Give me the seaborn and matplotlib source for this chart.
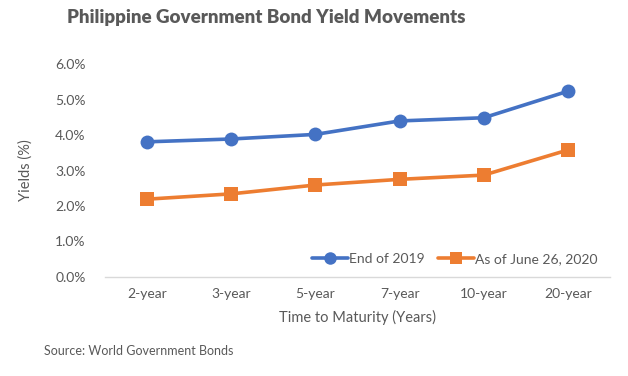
import matplotlib
matplotlib.use("Agg")
import matplotlib.pyplot as plt
import seaborn as sns
import pandas as pd
from matplotlib.ticker import FuncFormatter
from matplotlib.lines import Line2D

maturities = ["2-year", "3-year", "5-year", "7-year", "10-year", "20-year"]
end_2019 = [3.81, 3.89, 4.02, 4.40, 4.49, 5.24]
june_2020 = [2.19, 2.34, 2.59, 2.75, 2.87, 3.58]
series_names = ["End of 2019", "As of June 26, 2020"]
yticks = [0, 1, 2, 3, 4, 5, 6]

df = pd.DataFrame({
    "Maturity": maturities * 2,
    "Yield": end_2019 + june_2020,
    "Series": [series_names[0]] * len(maturities) + [series_names[1]] * len(maturities),
})

sns.set_theme(style="white")
plt.rcParams["font.family"] = ["Lato", "DejaVu Sans"]

GRAY = "#595959"
colors = {series_names[0]: "#4472C4", series_names[1]: "#ED7D31"}

fig = plt.figure(figsize=(6.28, 3.76), dpi=100)
ax = fig.add_axes([105 / 628, 1 - 276.7 / 376, (610 - 105) / 628, (276.7 - 64.3) / 376])

sns.lineplot(data=df, x="Maturity", y="Yield", hue="Series", style="Series",
             markers={series_names[0]: "o", series_names[1]: "s"}, dashes=False,
             palette=colors, linewidth=2.6, markersize=10, markeredgewidth=0,
             sort=False, ax=ax, legend=False)

ax.set_xlim(-0.5, len(maturities) - 0.5)
ax.set_ylim(0, 6.0)
ax.set_yticks(yticks)
ax.yaxis.set_major_formatter(FuncFormatter(lambda v, p: f"{v:.1f}%"))
for s in ["top", "right", "left"]:
    ax.spines[s].set_visible(False)
ax.spines["bottom"].set_color("#D9D9D9")
ax.spines["bottom"].set_linewidth(1.0)
ax.tick_params(axis="both", length=0, labelsize=10, labelcolor=GRAY)
ax.tick_params(axis="y", pad=14)
ax.tick_params(axis="x", pad=8)
ax.grid(False)

ax.set_xlabel("Time to Maturity (Years)", fontsize=10.5, color=GRAY, labelpad=7)
ax.set_ylabel("Yields (%)", fontsize=10.5, color=GRAY, labelpad=16)

handles = [
    Line2D([], [], color=colors[series_names[0]], marker="o", lw=2.6, markersize=9, markeredgewidth=0),
    Line2D([], [], color=colors[series_names[1]], marker="s", lw=2.6, markersize=8, markeredgewidth=0),
]
ax.legend(handles, series_names, loc="lower right", bbox_to_anchor=(1.0, -0.005), ncol=2,
          frameon=False, fontsize=10, labelcolor=GRAY, handlelength=2.6,
          handletextpad=0.1, columnspacing=0.9)

fig.text(266 / 628, 1 - 18 / 376, "Philippine Government Bond Yield Movements",
         ha="center", va="center", fontsize=13.5, fontweight="heavy", color=GRAY)
fig.text(44 / 628, 1 - 351 / 376, "Source: World Government Bonds",
         ha="left", va="center", fontsize=9, color=GRAY)

fig.savefig("out.png", dpi=100)
